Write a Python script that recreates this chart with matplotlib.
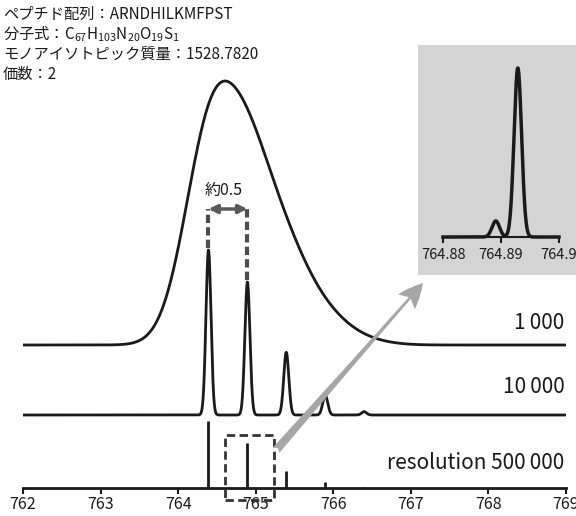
import matplotlib
matplotlib.use("Agg")
import matplotlib.pyplot as plt
import numpy as np
from matplotlib.patches import Rectangle

plt.rcParams['font.family'] = ['Noto Sans CJK JP', 'DejaVu Sans']
plt.rcParams['mathtext.default'] = 'regular'

# isotope peaks of the doubly charged ion (m/z) and intensities
iso_mz = [764.391, 764.893, 765.394, 765.896, 766.397]
iso_int = [1.0, 0.806, 0.38, 0.12, 0.02]
stick_int = [1.0, 0.67, 0.25, 0.09, 0.02]
resolutions = [1000, 10000, 500000]
res_labels = ["1\u2009000", "10\u2009000", "resolution 500\u2009000"]

# fine structure of the second isotope peak (inset)
fine_mz = [764.8891, 764.8929]
fine_int = [0.095, 1.0]
inset_ticks = [764.88, 764.89, 764.90]
inset_ticklabels = ["764.88", "764.89", "764.9"]

info_lines = [
    "ペプチド配列：ARNDHILKMFPST",
    "分子式：C$_{67}$H$_{103}$N$_{20}$O$_{19}$S$_{1}$",
    "モノアイソトピック質量：1528.7820",
    "価数：2",
]

main_ticks = list(range(762, 770))

# vertical layout (offsets / peak heights in axis units)
off_1k, h_1k = 143, 264
off_10k, h_10k = 73, 165
h_stick = 67

line_col = "#1a1a1a"


def profile(x, centers, heights, res):
    y = np.zeros_like(x)
    for c, h in zip(centers, heights):
        sig = c / res / 2.3548
        y += h * np.exp(-0.5 * ((x - c) / sig) ** 2)
    return y


fig = plt.figure(figsize=(5.76, 5.16), dpi=100)
W, H = 576, 516
ax = fig.add_axes([23 / W, (H - 488) / H, (566 - 23) / W, 488 / H])
ax.set_xlim(762, 769)
ax.set_ylim(0, 488)

x = np.linspace(762, 769, 20000)
env = profile(x, iso_mz, iso_int, resolutions[0])
ax.plot(x, off_1k + h_1k * env / env.max(), color=line_col, lw=2)
p10k = profile(x, iso_mz, iso_int, resolutions[1])
y10k = off_10k + h_10k * p10k / p10k.max()
ax.plot(x, y10k, color=line_col, lw=2)
ax.vlines(iso_mz, 0, np.array(stick_int) * h_stick, color=line_col, lw=2)

for s in ["left", "right", "top"]:
    ax.spines[s].set_visible(False)
ax.spines["bottom"].set_linewidth(2)
ax.spines["bottom"].set_color(line_col)
ax.set_yticks([])
ax.set_xticks(main_ticks)
ax.tick_params(axis="x", direction="out", length=4, width=1.5, colors=line_col,
               labelsize=11.5, pad=2)

# resolution labels
for lab, yy in zip(res_labels, [165, 101, 25]):
    ax.text(768.98, yy, lab, ha="right", va="center", fontsize=15, color=line_col)

# about-0.5 separation marker
top_y = 279
tops = [np.interp(m, x, y10k) for m in iso_mz[:2]]
for m, t in zip(iso_mz[:2], tops):
    ax.plot([m, m], [t + 2, top_y], color="#4d4d4d", lw=3, ls=(0, (2, 1)))
ax.annotate("", xy=(iso_mz[0], top_y), xytext=(iso_mz[1], top_y),
            arrowprops=dict(arrowstyle="<|-|>,head_length=0.5,head_width=0.25",
                            color="#5a5a5a", lw=2.5, shrinkA=0, shrinkB=0))
ax.text((iso_mz[0] + iso_mz[1]) / 2 - 0.06, top_y + 19, "約0.5", ha="center",
        va="center", fontsize=11.5, color=line_col)

# dashed zoom box around the second stick
bx0, bx1, by0, by1 = 764.61, 765.235, -12, 53
ax.add_patch(Rectangle((bx0, by0), bx1 - bx0, by1 - by0, fill=False,
                       ec="#333333", lw=2, ls=(0, (3, 1.6)), clip_on=False, zorder=3))

# inset
ix0 = 764.88 - 25 / 5800
ix1 = 764.90 + 17 / 5800
iax = fig.add_axes([418 / W, (H - 275) / H, (576 - 418) / W, 230 / H])
iax.set_facecolor("#d4d4d4")
iax.set_xlim(ix0, ix1)
iax.set_ylim(-38 / 169, 192 / 169)
xi = np.linspace(764.88, 764.90, 4000)
iax.plot(xi, profile(xi, fine_mz, fine_int, resolutions[2]), color=line_col, lw=2.5)
for s in ["left", "right", "top"]:
    iax.spines[s].set_visible(False)
iax.spines["bottom"].set_position(("data", 0))
iax.spines["bottom"].set_bounds(764.88, 764.90)
iax.spines["bottom"].set_linewidth(1.5)
iax.spines["bottom"].set_color(line_col)
iax.set_yticks([])
iax.set_xticks(inset_ticks)
iax.set_xticklabels(inset_ticklabels)
iax.tick_params(axis="x", direction="out", length=4, width=1.5, colors=line_col,
                labelsize=10.5, pad=4)

# gray arrow from the box to the inset
ax.annotate("", xy=(423, H - 283), xycoords="figure pixels",
            xytext=(bx1 + 0.03, 38), textcoords="data",
            arrowprops=dict(arrowstyle="fancy,head_length=0.9,head_width=0.8,tail_width=0.3",
                            color="#a6a6a6", ec="none", mutation_scale=20,
                            shrinkA=0, shrinkB=0),
            zorder=5)

# info text
for i, line in enumerate(info_lines):
    fig.text(3 / W, 1 - (14 + 20 * i) / H, line, ha="left", va="center",
             fontsize=11, color=line_col)

fig.savefig("out.png", dpi=100)
